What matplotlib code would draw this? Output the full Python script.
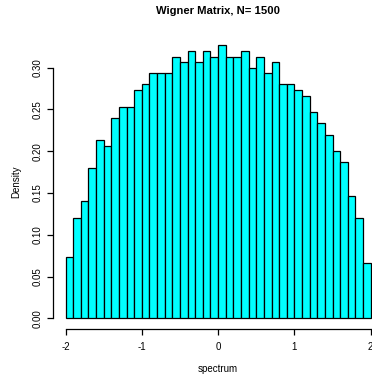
import numpy as np
import matplotlib
matplotlib.use("Agg")
import matplotlib.pyplot as plt

plt.rcParams['font.family'] = ['Liberation Sans', 'DejaVu Sans']

# Histogram bin edges (width 0.1 from -2 to 2) and densities (count / (1500*0.1))
bin_edges = np.round(np.arange(-2.0, 2.0001, 0.1), 2)
counts = [11, 18, 21, 27, 32, 31, 36, 38, 38, 41,
          42, 44, 44, 44, 47, 46, 48, 46, 48, 47,
          49, 47, 47, 48, 45, 47, 44, 46, 42, 42,
          41, 40, 37, 35, 33, 30, 28, 22, 18, 10]
N = 1500
density = np.array(counts) / (N * 0.1)

x_ticks = [-2, -1, 0, 1, 2]
y_ticks = [0.00, 0.05, 0.10, 0.15, 0.20, 0.25, 0.30]

W, H = 372, 374
fig = plt.figure(figsize=(W / 100, H / 100), dpi=100)
left, right = 53.3 / W, 382.9 / W
bottom, top = 1 - 329.2 / H, 1 - 34.5 / H
ax = fig.add_axes([left, bottom, right - left, top - bottom])

ax.bar(bin_edges[:-1], density, width=np.diff(bin_edges), align='edge',
       color='#00FFFF', edgecolor='black', linewidth=0.9)

ax.set_xlim(-2.16, 2.16)
ymax = density.max()
ax.set_ylim(-0.04 * ymax, ymax * 1.04)

for s in ['top', 'right']:
    ax.spines[s].set_visible(False)
ax.spines['left'].set_bounds(0, 0.30)
ax.spines['bottom'].set_bounds(-2, 2)
for s in ['left', 'bottom']:
    ax.spines[s].set_linewidth(0.9)

ax.set_xticks(x_ticks)
ax.set_xticklabels([str(t) for t in x_ticks])
ax.set_yticks(y_ticks)
ax.set_yticklabels([f"{t:.2f}" for t in y_ticks], rotation=90, va='center')
ax.tick_params(axis='both', direction='out', length=4, width=0.9, labelsize=7)
ax.tick_params(axis='x', pad=5)
ax.tick_params(axis='y', pad=4)

ax.set_xlabel('spectrum', fontsize=7, labelpad=9)
ax.set_ylabel('Density', fontsize=7, labelpad=8)
ax.set_title('Wigner Matrix, N= 1500', fontsize=8.1, fontweight='bold', pad=15)

fig.savefig('out.png', dpi=100)
